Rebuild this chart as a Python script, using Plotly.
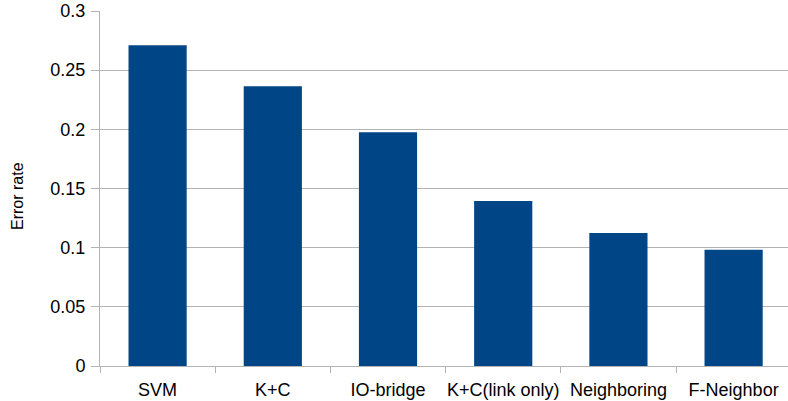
import plotly.graph_objects as go

categories = ["SVM", "K+C", "IO-bridge", "K+C(link only)", "Neighboring", "F-Neighbor"]
error_rate = [0.271, 0.2365, 0.1975, 0.1395, 0.1125, 0.0982]
y_ticks = [0, 0.05, 0.1, 0.15, 0.2, 0.25, 0.3]
y_tick_labels = ["0", "0.05", "0.1", "0.15", "0.2", "0.25", "0.3"]

grid = "#b3b3b3"
font = dict(family="Liberation Sans, Arial, sans-serif", size=18, color="#000000")
title_font = dict(family="Liberation Sans, Arial, sans-serif", size=16, color="#000000")

fig = go.Figure(go.Bar(x=categories, y=error_rate, marker=dict(color="#004586", line=dict(width=0))))

fig.update_layout(
    width=788, height=401,
    margin=dict(l=100, r=0, t=10.5, b=34.5, autoexpand=False),
    paper_bgcolor="white", plot_bgcolor="white",
    font=font, showlegend=False, bargap=0.495,
)
fig.update_xaxes(
    range=[-0.5, 5.472], showline=True, linecolor=grid, linewidth=1,
    ticks="outside", tickson="boundaries", ticklen=6, tickcolor=grid,
    showgrid=False, tickfont=font, automargin=False, ticklabelstandoff=7,
    tickangle=0,
)
fig.update_yaxes(
    range=[0, 0.3], tickvals=y_ticks, ticktext=y_tick_labels,
    showline=True, linecolor=grid, linewidth=1,
    ticks="outside", ticklen=8, tickcolor=grid,
    showgrid=True, gridcolor=grid, gridwidth=1, zeroline=False,
    tickfont=font, automargin=False, ticklabelstandoff=2,
)
fig.add_annotation(
    text="Error rate", xref="paper", yref="paper", x=0, y=0.479,
    xanchor="center", yanchor="middle", xshift=-82, textangle=-90,
    showarrow=False, font=title_font,
)

fig.write_html("out.html", config={"displayModeBar": False},
               post_script="document.body.style.margin='0';")
